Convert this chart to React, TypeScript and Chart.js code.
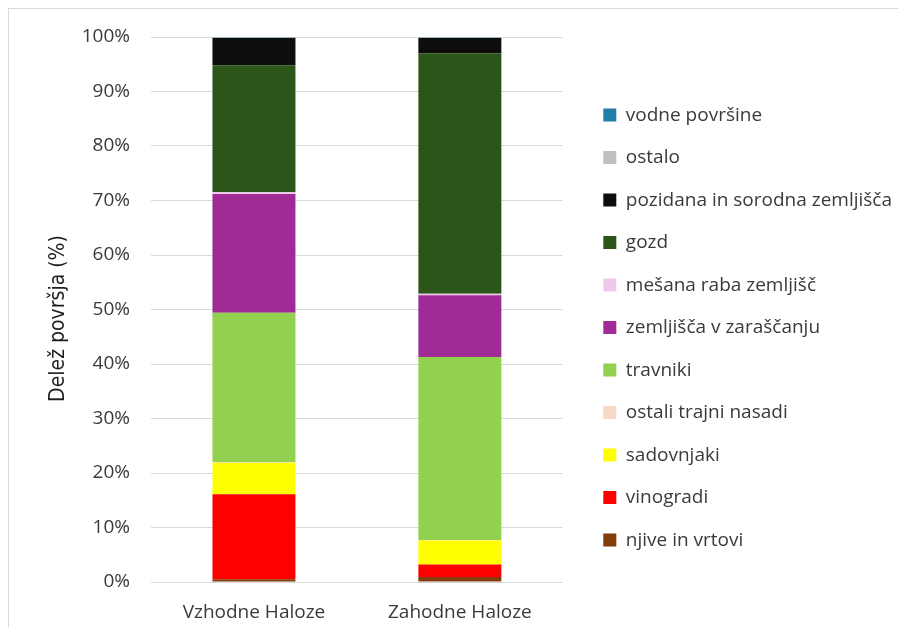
import React, { useEffect, useRef } from "react";
import { Chart, registerables } from "chart.js";

Chart.register(...registerables);

const categories = ["Vzhodne Haloze", "Zahodne Haloze"];

const seriesNames = [
  "njive in vrtovi",
  "vinogradi",
  "sadovnjaki",
  "ostali trajni nasadi",
  "travniki",
  "zemljišča v zaraščanju",
  "mešana raba zemljišč",
  "gozd",
  "pozidana in sorodna zemljišča",
  "ostalo",
  "vodne površine",
];

const seriesColors = [
  "#843c0c",
  "#ff0000",
  "#ffff00",
  "#f8d9c8",
  "#92d050",
  "#a12b96",
  "#f0c8ec",
  "#2b5519",
  "#0d0d0d",
  "#bfbfbf",
  "#1f7fa8",
];

// values per series: [Vzhodne Haloze, Zahodne Haloze]
const njive = [0.5, 0.9];
const vinogradi = [15.6, 2.3];
const sadovnjaki = [5.8, 4.4];
const ostaliNasadi = [0.1, 0.1];
const travniki = [27.4, 33.6];
const zarascanje = [21.8, 11.3];
const mesana = [0.3, 0.3];
const gozd = [23.3, 44.1];
const pozidana = [5.0, 2.8];
const ostalo = [0.1, 0.1];
const vodne = [0.1, 0.1];

const seriesValues = [
  njive,
  vinogradi,
  sadovnjaki,
  ostaliNasadi,
  travniki,
  zarascanje,
  mesana,
  gozd,
  pozidana,
  ostalo,
  vodne,
];

const yTicks = [0, 10, 20, 30, 40, 50, 60, 70, 80, 90, 100];

const W = 897;
const H = 618;

export default function App() {
  const ref = useRef<HTMLCanvasElement | null>(null);

  useEffect(() => {
    if (!ref.current) return;
    const textColor = "#3a3a3a";
    const mainFont = '"Open Sans", sans-serif';
    const chart = new Chart(ref.current, {
      type: "bar",
      data: {
        labels: categories,
        datasets: seriesNames.map((name, i) => ({
          label: name,
          data: seriesValues[i],
          backgroundColor: seriesColors[i],
          borderWidth: 0,
          barPercentage: 0.403,
          categoryPercentage: 1,
          yAxisID: "y",
        })),
      },
      options: {
        animation: false,
        responsive: false,
        devicePixelRatio: 1,
        layout: { padding: { top: 28, bottom: 0, left: 0, right: 4 } },
        plugins: {
          tooltip: { enabled: false },
          title: { display: false },
          legend: {
            display: true,
            position: "right",
            reverse: true,
            maxWidth: 420,
            title: {
              display: true,
              text: "",
              font: { size: 1 },
              padding: { top: -5, bottom: -5 },
            },
            labels: {
              boxWidth: 13,
              boxHeight: 13,
              padding: 23.5,
              color: textColor,
              font: { family: mainFont, size: 19 },
            },
          },
        },
        scales: {
          x: {
            stacked: true,
            grid: { display: false, drawTicks: false },
            border: { display: false },
            ticks: {
              color: textColor,
              font: { family: mainFont, size: 19 },
              padding: 19,
            },
            afterFit: (s: any) => {
              s.height = 45;
            },
          },
          y: {
            stacked: true,
            min: 0,
            max: 100,
            afterBuildTicks: (s: any) => {
              s.ticks = yTicks.map((v) => ({ value: v }));
            },
            grid: { color: "#d9d9d9", lineWidth: 1, drawTicks: false },
            border: { display: false },
            ticks: {
              color: textColor,
              font: { family: mainFont, size: 19 },
              padding: 21,
              callback: (v: any) => v + "%",
            },
            title: {
              display: true,
              text: "Delež površja (%)   ",
              color: "#1f1f1f",
              font: {
                family: '"DejaVu Sans", sans-serif',
                size: 21,
                weight: "condensed",
              },
              padding: { top: 37, bottom: 0 },
            },
            afterFit: (s: any) => {
              s.width = 142;
              s.paddingTop = 0;
              s.paddingBottom = 0;
            },
          },
          yR: {
            type: "linear",
            position: "right",
            display: true,
            grid: { display: false, drawTicks: false },
            border: { display: false },
            ticks: { display: false },
            afterFit: (s: any) => {
              s.width = 17;
            },
          },
        },
      },
    } as any);
    return () => chart.destroy();
  }, []);

  return (
    <div
      style={{
        width: W,
        height: H,
        borderTop: "1px solid #d9d9d9",
        borderLeft: "1px solid #d9d9d9",
        background: "#fff",
      }}
    >
      <canvas ref={ref} width={W} height={H} style={{ display: "block", width: W, height: H }} />
    </div>
  );
}
